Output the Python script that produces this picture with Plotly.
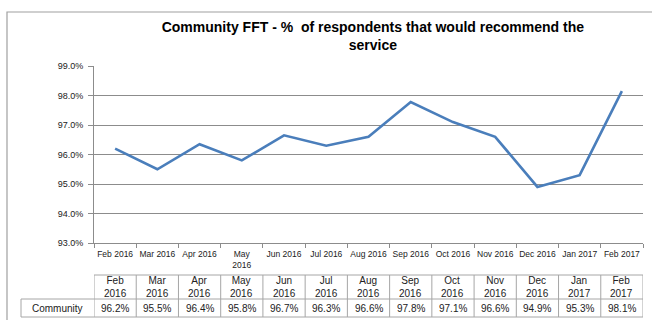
import plotly.graph_objects as go

months = ["Feb 2016", "Mar 2016", "Apr 2016", "May 2016", "Jun 2016", "Jul 2016",
          "Aug 2016", "Sep 2016", "Oct 2016", "Nov 2016", "Dec 2016", "Jan 2017", "Feb 2017"]
tick_labels = ["Feb 2016", "Mar 2016", "Apr 2016", "May<br>2016", "Jun 2016", "Jul 2016",
               "Aug 2016", "Sep 2016", "Oct 2016", "Nov 2016", "Dec 2016", "Jan 2017", "Feb 2017"]
community = [96.2, 95.5, 96.35, 95.8, 96.65, 96.3, 96.6, 97.78, 97.1, 96.6, 94.9, 95.3, 98.15]
table_values = ["96.2%", "95.5%", "96.4%", "95.8%", "96.7%", "96.3%", "96.6%",
                "97.8%", "97.1%", "96.6%", "94.9%", "95.3%", "98.1%"]
series_name = "Community"
title_text = "Community FFT - %  of respondents that would recommend the<br>service"

W, H = 652, 320
L, R, T, B = 94, 9, 66, 77
PW = W - L - R
PH = H - T - B

def px_x(p):
    return (p - L) / PW

def px_y(p):
    return (H - B - p) / PH

fig = go.Figure()
fig.add_trace(go.Scatter(x=months, y=community, mode="lines",
                         line=dict(color="#4a7ebb", width=2.6), showlegend=False,
                         hoverinfo="skip"))

grey = "#8c8c8c"
font = "Liberation Sans"

shapes = []
annotations = []
# outer border
shapes.append(dict(type="rect", xref="paper", yref="paper",
                   x0=px_x(7), x1=px_x(668), y0=px_y(340), y1=px_y(12),
                   line=dict(color="#a0a0a0", width=1.2)))
# table
top, mid, bot = 275, 299, 317
n = len(months)
for i in range(n + 1):
    shapes.append(dict(type="line", xref="x", yref="paper", x0=i - 0.5, x1=i - 0.5,
                       y0=px_y(bot), y1=px_y(top), line=dict(color="#a6a6a6", width=1)))
shapes.append(dict(type="line", xref="x", yref="paper", x0=-0.5, x1=n - 0.5,
                   y0=px_y(top), y1=px_y(top), line=dict(color="#a6a6a6", width=1)))
shapes.append(dict(type="line", xref="paper", yref="paper", x0=px_x(21), x1=1,
                   y0=px_y(mid), y1=px_y(mid), line=dict(color="#a6a6a6", width=1)))
shapes.append(dict(type="line", xref="paper", yref="paper", x0=px_x(21), x1=1,
                   y0=px_y(bot), y1=px_y(bot), line=dict(color="#a6a6a6", width=1)))
shapes.append(dict(type="line", xref="paper", yref="paper", x0=px_x(21), x1=px_x(21),
                   y0=px_y(bot), y1=px_y(mid), line=dict(color="#a6a6a6", width=1)))

for i, (m, v) in enumerate(zip(months, table_values)):
    mo, yr = m.split(" ")
    annotations.append(dict(x=i, y=px_y((top + mid) / 2), xref="x", yref="paper",
                            text=f"{mo}<br>{yr}", showarrow=False,
                            font=dict(family=font, size=10, color="#222"),
                            xanchor="center", yanchor="middle"))
    annotations.append(dict(x=i, y=px_y((mid + bot) / 2 + 0.5), xref="x", yref="paper",
                            text=v, showarrow=False,
                            font=dict(family=font, size=10, color="#222"),
                            xanchor="center", yanchor="middle"))
annotations.append(dict(x=px_x((21 + 94) / 2), y=px_y((mid + bot) / 2 + 0.5), xref="paper",
                        yref="paper", text=series_name, showarrow=False,
                        font=dict(family=font, size=10, color="#222"),
                        xanchor="center", yanchor="middle"))

fig.update_layout(
    width=W, height=H,
    margin=dict(l=L, r=R, t=T, b=B, autoexpand=False),
    paper_bgcolor="white", plot_bgcolor="white",
    title=dict(text=title_text, x=0.508, xref="paper", xanchor="center",
               y=1 - 32 / H, yref="container", yanchor="top",
               font=dict(family=font, size=14, color="black", weight="bold")),
    xaxis=dict(type="category", tickvals=months, ticktext=tick_labels,
               tickson="boundaries", ticks="outside", ticklen=4, tickcolor=grey,
               showline=True, linecolor=grey, linewidth=1, showgrid=False,
               tickfont=dict(family=font, size=8.5, color="#222"), tickangle=0,
               ticklabelstandoff=3,
               range=[-0.5, n - 0.5]),
    yaxis=dict(range=[93, 99], dtick=1, tickformat=".1f", ticksuffix="%",
               ticks="outside", ticklen=5, tickcolor=grey,
               showline=True, linecolor=grey, linewidth=1,
               showgrid=True, gridcolor=grey, gridwidth=1, zeroline=False,
               ticklabelstandoff=3,
               tickfont=dict(family=font, size=9, color="#222")),
    shapes=shapes, annotations=annotations,
)

fig.write_html("out.html")
